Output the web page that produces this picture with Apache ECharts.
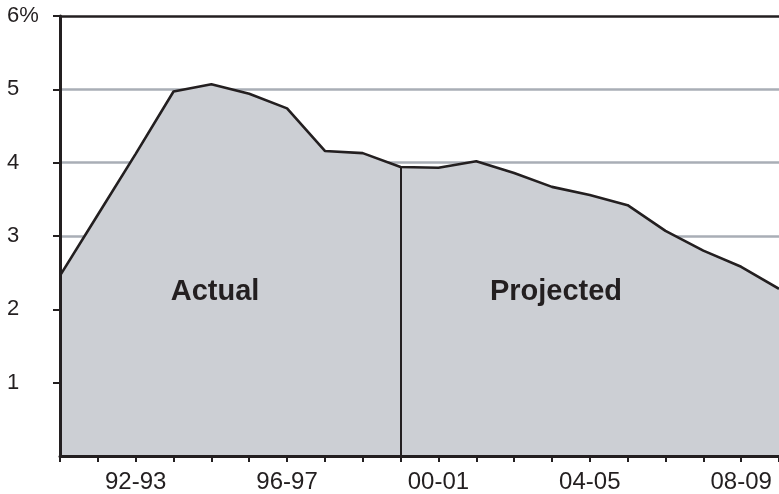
<!DOCTYPE html>
<html>
<head>
<meta charset="utf-8">
<script src="https://cdn.jsdelivr.net/npm/echarts@6/dist/echarts.min.js"></script>
<style>
  html, body { margin: 0; padding: 0; background: #fff; }
  #chart { width: 779px; height: 494px; }
</style>
</head>
<body>
<div id="chart"></div>
<script>
/* ---------------- Data ---------------- */
const years = [
  "90-91", "91-92", "92-93", "93-94", "94-95", "95-96", "96-97", "97-98",
  "98-99", "99-00", "00-01", "01-02", "02-03", "03-04", "04-05", "05-06",
  "06-07", "07-08", "08-09", "09-10"
];
const rates = [
  2.46, 3.29, 4.12, 4.97, 5.07, 4.94, 4.74, 4.16, 4.13, 3.94,
  3.93, 4.02, 3.86, 3.67, 3.56, 3.42, 3.07, 2.80, 2.58, 2.28
];
const yTicks = [1, 2, 3, 4, 5, 6];
const dividerIndex = 9;
const periodLabels = ["Actual", "Projected"];

const font = "'Liberation Sans', Arial, Helvetica, sans-serif";
const ink = "#231f20";
const grid = "#a9aeb6";

const chart = echarts.init(document.getElementById("chart"));

/* ---------------- Period labels ---------------- */
const periodText = (text, x) => ({
  type: "text",
  x: x,
  y: 292,
  z: 100,
  style: {
    text: text,
    fontFamily: font,
    fontSize: 29,
    fontWeight: "bold",
    fill: ink,
    align: "center",
    verticalAlign: "middle"
  }
});

chart.setOption({
  animation: false,
  grid: { left: 60, right: 0, top: 16, bottom: 37 },
  xAxis: {
    type: "category",
    data: years,
    boundaryGap: false,
    z: 5,
    axisLine: { lineStyle: { color: ink, width: 3 } },
    axisTick: { interval: 0, length: 6, lineStyle: { color: ink, width: 2 } },
    axisLabel: {
      interval: i => i % 4 === 2,
      margin: 14,
      fontFamily: font,
      fontSize: 24,
      color: ink
    },
    splitLine: { show: false }
  },
  yAxis: [
    {
      type: "value",
      min: 0,
      max: 6,
      interval: 1,
      axisLine: { show: false },
      axisTick: { show: false },
      axisLabel: { show: false },
      // top line (6%) is the black frame edge
      splitLine: {
        show: true,
        lineStyle: { color: [grid, grid, grid, grid, grid, grid, ink], width: 2.5 }
      }
    },
    {
      type: "value",
      min: 0,
      max: 6,
      interval: 1,
      position: "left",
      z: 5,
      axisLine: { show: true, lineStyle: { color: ink, width: 3 } },
      axisTick: {
        show: true,
        length: 7,
        customValues: yTicks,
        lineStyle: { color: ink, width: 2 }
      },
      axisLabel: {
        align: "left",
        margin: 53,
        fontFamily: font,
        fontSize: 22,
        color: ink,
        formatter: v => (v === 0 ? "" : v === 6 ? "6%" : String(v))
      },
      splitLine: { show: false }
    }
  ],
  series: [
    {
      type: "line",
      data: rates,
      symbol: "none",
      lineStyle: { color: ink, width: 2.6 },
      areaStyle: { color: "#cccfd4", opacity: 1 },
      markLine: {
        silent: true,
        symbol: "none",
        label: { show: false },
        lineStyle: { color: ink, width: 2, type: "solid" },
        data: [[
          { coord: [dividerIndex, 0] },
          { coord: [dividerIndex, rates[dividerIndex]] }
        ]]
      }
    }
  ],
  graphic: [
    periodText(periodLabels[0], 215),
    periodText(periodLabels[1], 556)
  ]
});
</script>
</body>
</html>
